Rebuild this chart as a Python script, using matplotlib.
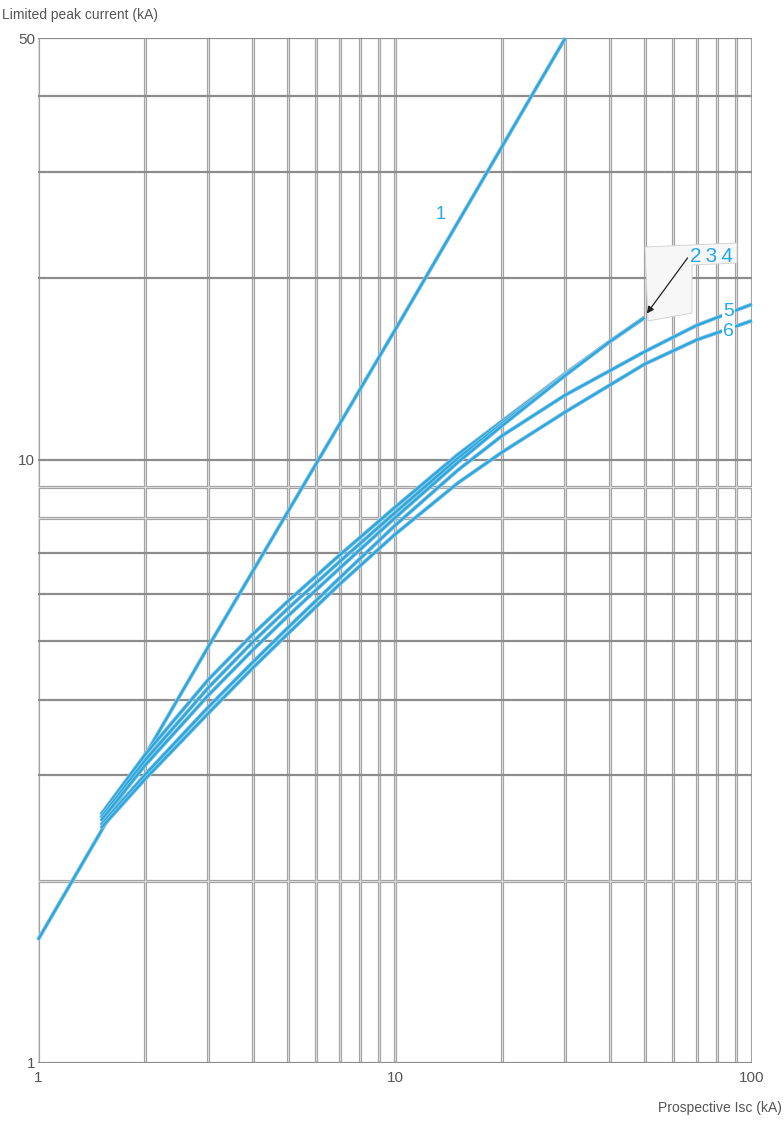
import matplotlib
matplotlib.use("Agg")
import matplotlib.pyplot as plt
import matplotlib.patheffects as pe
from matplotlib.patches import Polygon
from matplotlib.transforms import IdentityTransform

# ---- data ----
x_curve1 = [1, 3, 10, 30]
y_curve1 = [1.6, 4.9, 16.4, 50]

x_234 = [1.5, 2, 3, 4, 5, 7, 10, 15, 20, 30, 40, 50]
y_curve2 = [2.58, 3.25, 4.32, 5.14, 5.82, 6.95, 8.34, 10.2, 11.6, 13.9, 15.7, 17.2]
y_curve3 = [2.55, 3.18, 4.19, 4.99, 5.66, 6.78, 8.17, 10.05, 11.5, 13.85, 15.7, 17.2]
y_curve4 = [2.52, 3.12, 4.07, 4.84, 5.50, 6.61, 8.01, 9.90, 11.4, 13.8, 15.7, 17.2]

x_56 = [1.5, 2, 3, 4, 5, 7, 10, 15, 20, 30, 50, 70, 100]
y_curve5 = [2.48, 3.01, 3.89, 4.62, 5.26, 6.37, 7.78, 9.61, 10.97, 12.8, 15.1, 16.7, 18.1]
y_curve6 = [2.45, 2.96, 3.80, 4.52, 5.14, 6.22, 7.52, 9.15, 10.3, 12.0, 14.4, 15.8, 17.0]

x_ticks = [1, 10, 100]
x_ticklabels = ["1", "10", "100"]
y_ticks = [1, 10, 50]
y_ticklabels = ["1", "10", "50"]

v_grid = [1, 2, 3, 4, 5, 6, 7, 8, 9, 10, 20, 30, 40, 50, 60, 70, 80, 90, 100]
h_grid_dark = [1, 3, 4, 5, 6, 7, 10, 20, 30, 40, 50]
h_grid_light = [2, 8, 9]

BLUE = "#23a9e6"
PX = 0.72  # points per pixel at dpi 100
W, H = 784, 1121

fig = plt.figure(figsize=(W/100, H/100), dpi=100)
ax = fig.add_axes([38/W, 58/H, 714/W, 1025/H])
ax.set_xscale("log")
ax.set_yscale("log")
ax.set_xlim(1, 100)
ax.set_ylim(1, 50)
for s in ax.spines.values():
    s.set_visible(False)

# grid
for v in v_grid:
    ax.axvline(v, color="#a2a2a2", lw=3.2*PX, zorder=1)
    ax.axvline(v, color="#dadada", lw=1.1*PX, zorder=1.1)
for h in h_grid_light:
    ax.axhline(h, color="#a2a2a2", lw=3.2*PX, zorder=1)
    ax.axhline(h, color="#dadada", lw=1.1*PX, zorder=1.1)
for h in h_grid_dark:
    ax.axhline(h, color="#8c8c8c", lw=2.2*PX, zorder=1.2)

effects = [pe.Stroke(linewidth=4.0*PX, foreground="#9cc3d6"), pe.Normal()]
for xs, ys in [(x_curve1, y_curve1), (x_234, y_curve2), (x_234, y_curve3),
               (x_234, y_curve4), (x_56, y_curve5), (x_56, y_curve6)]:
    ax.plot(xs, ys, color=BLUE, lw=2.3*PX, zorder=3, path_effects=effects,
            solid_capstyle="butt", solid_joinstyle="round", clip_on=False)

# labels
lab = dict(color=BLUE, family="Liberation Sans", zorder=6)
ax.text(13.4, 25.5, "1", fontsize=13, ha="center", va="center", **lab)

# 234 label box (pixel coordinates, top-left origin)
box_px = [[645, 247], [737, 243], [737, 263], [692, 265], [692, 313], [648, 321]]
box = Polygon([[p[0], H - p[1]] for p in box_px], closed=True,
              transform=IdentityTransform(), facecolor="#f7f7f7",
              edgecolor="#cfcfcf", lw=0.6, zorder=4)
ax.add_patch(box)
ax.text(77, 21.7, "2\u20093\u20094", fontsize=15, ha="center", va="center", **lab)
ax.annotate("", xy=(50.5, 17.4), xytext=(66, 21.6),
            arrowprops=dict(arrowstyle="-|>", color="#222222", lw=0.9,
                            mutation_scale=10, shrinkA=0, shrinkB=1),
            zorder=7)
ax.text(86, 17.6, "5", fontsize=14, ha="center", va="center",
        bbox=dict(facecolor="white", edgecolor="none", pad=0.5), **lab)
ax.text(86, 16.3, "6", fontsize=14, ha="center", va="center",
        bbox=dict(facecolor="white", edgecolor="none", pad=0.5), **lab)

# ticks
ax.set_xticks(x_ticks)
ax.set_xticklabels(x_ticklabels)
ax.set_yticks(y_ticks)
ax.set_yticklabels(y_ticklabels)
ax.minorticks_off()
ax.tick_params(axis="both", length=0, labelsize=11, labelcolor="#555555", pad=6)
for t in ax.get_xticklabels() + ax.get_yticklabels():
    t.set_family("Liberation Sans")
ax.tick_params(axis="y", pad=2)

fig.text(2/W, 1 - 15/H, "Limited peak current (kA)", fontsize=10,
         color="#555555", family="Liberation Sans", ha="left", va="center")
fig.text(782/W, 1 - 1108/H, "Prospective Isc (kA)", fontsize=10,
         color="#555555", family="Liberation Sans", ha="right", va="center")

fig.savefig("out.png", dpi=100)
